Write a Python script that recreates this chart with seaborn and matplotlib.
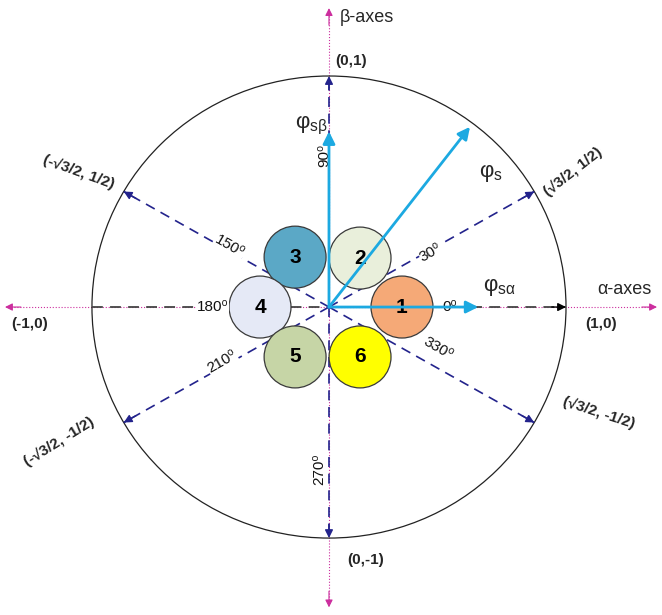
import numpy as np
import matplotlib.pyplot as plt
import seaborn as sns
from matplotlib.patches import Circle

# === Data ===
sector_ids = ["1", "2", "3", "4", "5", "6"]
sector_x = [0.308, 0.131, -0.143, -0.291, -0.143, 0.131]
sector_y = [0.0, 0.212, 0.216, 0.0, -0.216, -0.216]
sector_colors = ["#F5A977", "#E9EFDB", "#5BA8C6", "#E5E9F6", "#C6D5A6", "#FFFF00"]

ray_angles = [30, 90, 150, 210, 270, 330]
angle_labels = ["0", "30", "90", "150", "180", "210", "270", "330"]

phi_alpha = 0.63
phi_beta = 0.76
phi_s = (0.595, 0.78)

coord_labels = ["(1,0)", "(\u221a3/2, 1/2)", "(0,1)", "(-\u221a3/2, 1/2)",
                "(-1,0)", "(-\u221a3/2, -1/2)", "(0,-1)", "(\u221a3/2, -1/2)"]

# === Style ===
sns.set_theme(style="white")
plt.rcParams["font.family"] = ["Liberation Sans", "DejaVu Sans"]
plt.rcParams["mathtext.fontset"] = "dejavusans"

fig = plt.figure(figsize=(6.62, 6.15), dpi=100)
ax = fig.add_axes([0, 0, 1, 1])
ax.set_xlim(-1.388, 1.405)
ax.set_ylim(-1.333, 1.329)
ax.axis("off")

navy = "#23238C"
magenta = "#CC2E9E"
cyan = "#1CA9E1"

# === Alpha / beta axes (magenta dotted) ===
ax.plot([-1.34, 1.36], [0, 0], color=magenta, lw=0.8, ls=":", zorder=1)
ax.plot([0, 0], [-1.27, 1.27], color=magenta, lw=0.8, ls=":", zorder=1)
for tip, tail in [((-1.367, 0), (-1.30, 0)), ((1.384, 0), (1.32, 0)),
                  ((0, 1.294), (0, 1.22)), ((0, -1.30), (0, -1.23))]:
    ax.annotate("", xy=tip, xytext=tail,
                arrowprops=dict(arrowstyle="-|>", color=magenta, lw=0.8,
                                mutation_scale=11, shrinkA=0, shrinkB=0))

# === Unit circle ===
ax.add_patch(Circle((0, 0), 1.0, fill=False, ec="#222222", lw=0.9, zorder=2))

# === 0/180 line (dark dashed) ===
ax.plot([-1, 1], [0, 0], color="#444444", lw=1.3, ls=(0, (6, 4)), zorder=2)
ax.annotate("", xy=(1, 0), xytext=(0.94, 0),
            arrowprops=dict(arrowstyle="-|>", color="black", lw=1,
                            mutation_scale=12, shrinkA=0, shrinkB=0), zorder=3)

# === Dashed rays with arrowheads ===
for a in ray_angles:
    c, s = np.cos(np.radians(a)), np.sin(np.radians(a))
    ax.plot([0, c], [0, s], color=navy, lw=1.2, ls=(0, (6, 4)), zorder=3)
    ax.annotate("", xy=(c, s), xytext=(0.94 * c, 0.94 * s),
                arrowprops=dict(arrowstyle="-|>", color=navy, lw=1,
                                mutation_scale=12, shrinkA=0, shrinkB=0), zorder=4)

# === Sector circles ===
sns.scatterplot(x=sector_x, y=sector_y, hue=sector_ids,
                palette=dict(zip(sector_ids, sector_colors)),
                s=1990, edgecolor="#3a3a3a", linewidth=0.9, legend=False,
                ax=ax, zorder=5)
for lab, x, y in zip(sector_ids, sector_x, sector_y):
    ax.text(x, y, lab, ha="center", va="center", fontsize=15,
            fontweight="bold", color="black", zorder=7)

# === Flux vectors (cyan) ===
vec_kw = dict(arrowstyle="-|>", color=cyan, lw=2.0, mutation_scale=18,
              shrinkA=0, shrinkB=0)
ax.annotate("", xy=(phi_alpha, 0), xytext=(0, 0), arrowprops=vec_kw, zorder=8)
ax.annotate("", xy=(0, phi_beta), xytext=(0, 0), arrowprops=vec_kw, zorder=8)
ax.annotate("", xy=phi_s, xytext=(0, 0), arrowprops=vec_kw, zorder=8)

ax.text(0.72, 0.085, "\u03c6$_{\\mathregular{s\u03b1}}$", fontsize=16, ha="center", va="center")
ax.text(-0.075, 0.785, "\u03c6$_{\\mathregular{s\u03b2}}$", fontsize=16, ha="center", va="center")
ax.text(0.684, 0.58, "\u03c6$_{\\mathregular{s}}$", fontsize=16, ha="center", va="center")

# === Angle labels ===
angle_pos = [(0.51, 0.0, 0), (0.43, 0.236, 30), (-0.02, 0.655, 90),
             (-0.418, 0.262, -30), (-0.49, 0.0, 0), (-0.451, -0.238, 30),
             (-0.04, -0.70, 90), (0.46, -0.18, -30)]
for lab, (x, y, r) in zip(angle_labels, angle_pos):
    ax.text(x, y, lab + "\u2070", fontsize=11, rotation=r, ha="center",
            va="center", color="#111111", zorder=6,
            bbox=dict(fc="white", ec="none", pad=0.3))

# === Coordinate labels ===
coord_pos = [(1.15, -0.074, 0), (1.03, 0.585, 38), (0.095, 1.066, 0),
             (-1.055, 0.584, -20), (-1.262, -0.074, 0), (-1.139, -0.584, 32),
             (0.155, -1.095, 0), (1.139, -0.459, -18)]
for lab, (x, y, r) in zip(coord_labels, coord_pos):
    ax.text(x, y, lab, fontsize=11, fontweight="bold", rotation=r,
            ha="center", va="center", rotation_mode="anchor")

# === Axis names ===
ax.text(0.046, 1.255, "\u03b2-axes", fontsize=13, ha="left", va="center")
ax.text(1.131, 0.074, "\u03b1-axes", fontsize=13, ha="left", va="center")

plt.savefig("out.png", dpi=100)
